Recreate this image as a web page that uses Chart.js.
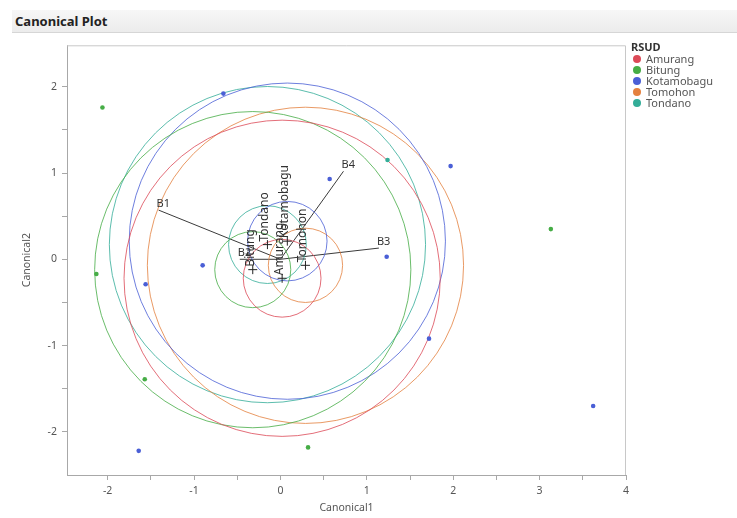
<!DOCTYPE html>
<html lang="en">
<head>
  <meta charset="UTF-8" />
  <title>Canonical Plot</title>
  <style>
    body {
      margin: 0;
      background: #fff;
      font-family: "Noto Sans", sans-serif;
      width: 737px;
      height: 518px;
      position: relative;
      overflow: hidden;
    }

    .header {
      position: absolute;
      left: 12px;
      top: 10px;
      right: 0;
      height: 22px;
      background: linear-gradient(#f7f7f7, #ececec);
      border-bottom: 1px solid #d6d6d6;
      font-weight: bold;
      font-size: 13px;
      line-height: 22px;
      padding-left: 3px;
      color: #222;
    }

    .plot {
      position: absolute;
      left: 0;
      top: 34px;
      width: 737px;
      height: 484px;
    }

    #legend {
      position: absolute;
      left: 631px;
      top: 41px;
      font-size: 11px;
      line-height: 11px;
      color: #555;
    }

    #legend .title {
      font-weight: bold;
      color: #333;
      margin-bottom: 1px;
    }

    #legend .item {
      display: flex;
      align-items: center;
      white-space: nowrap;
    }

    #legend .dot {
      width: 8px;
      height: 8px;
      border-radius: 50%;
      margin: 0 5px 0 2px;
    }
  </style>
</head>
<body>
  <div class="header">Canonical Plot</div>
  <div class="plot"><canvas id="chart" width="737" height="484"></canvas></div>
  <div id="legend"></div>

  <script src="https://cdn.jsdelivr.net/npm/chart.js"></script>
  <script>
    // groups and their means in canonical space
    const groups = ["Amurang", "Bitung", "Kotamobagu", "Tomohon", "Tondano"];
    const groupColors = ["#dc4a58", "#46ad46", "#4a5fd6", "#e4813f", "#33ad98"];
    const lineColors = ["rgba(220,74,88,0.8)", "rgba(70,173,70,0.8)", "rgba(74,95,214,0.8)", "rgba(228,129,63,0.8)", "rgba(51,173,152,0.8)"];
    const meanX = [0.02, -0.32, 0.08, 0.29, -0.15];
    const meanY = [-0.22, -0.12, 0.21, -0.07, 0.17];
    const meanCI = [0.45, 0.44, 0.46, 0.43, 0.45];   // 95% mean circles
    const contourR = [1.83, 1.83, 1.83, 1.83, 1.83]; // normal contour circles

    // observations
    const kotamobaguX = [-0.66, 1.97, 0.57, 1.23, -0.90, -1.56, 1.72, 3.62, -1.64];
    const kotamobaguY = [1.92, 1.08, 0.93, 0.03, -0.07, -0.29, -0.92, -1.70, -2.22];
    const bitungX = [-2.06, 3.13, -2.13, -1.57, 0.32];
    const bitungY = [1.76, 0.35, -0.17, -1.39, -2.18];
    const tondanoX = [1.24];
    const tondanoY = [1.15];

    // biplot rays
    const rayNames = ["B1", "B2", "B3", "B4"];
    const rayX = [-1.41, -0.47, 1.14, 0.73];
    const rayY = [0.57, 0.0, 0.13, 1.02];

    // axes
    const xTicks = [-2, -1, 0, 1, 2, 3, 4];
    const xMinor = [-1.5, -0.5, 0.5, 1.5, 2.5, 3.5];
    const yTicks = [-2, -1, 0, 1, 2];
    const yMinor = [-1.5, -0.5, 0.5, 1.5];

    const toPts = (xs, ys) => xs.map((x, i) => ({ x, y: ys[i] }));
    const pxRadius = (r) => (ctx) => {
      const xs = ctx.chart.scales.x;
      if (!xs) return 0;
      return Math.abs(xs.getPixelForValue(r) - xs.getPixelForValue(0));
    };

    const datasets = [];

    // observation points
    const obs = { Bitung: [bitungX, bitungY], Kotamobagu: [kotamobaguX, kotamobaguY], Tondano: [tondanoX, tondanoY] };
    for (const name in obs) {
      const c = groupColors[groups.indexOf(name)];
      datasets.push({
        label: name,
        data: toPts(obs[name][0], obs[name][1]),
        backgroundColor: c,
        borderColor: c,
        pointRadius: 2.3,
        borderWidth: 0
      });
    }

    // mean markers
    datasets.push({
      label: "means",
      data: toPts(meanX, meanY),
      pointStyle: "cross",
      pointRadius: 4.5,
      borderColor: "#222",
      borderWidth: 1
    });

    // circles, one point each, radius in data units
    groups.forEach((g, i) => {
      datasets.push({
        label: g + " contour",
        data: [{ x: meanX[i], y: meanY[i] }],
        pointRadius: pxRadius(contourR[i]),
        backgroundColor: "rgba(0,0,0,0)",
        borderColor: lineColors[i],
        borderWidth: 1,
        clip: false
      });
      datasets.push({
        label: g + " mean CI",
        data: [{ x: meanX[i], y: meanY[i] }],
        pointRadius: pxRadius(meanCI[i]),
        backgroundColor: "rgba(0,0,0,0)",
        borderColor: lineColors[i],
        borderWidth: 1,
        clip: false
      });
    });

    // rays from the origin
    rayNames.forEach((n, i) => {
      datasets.push({
        label: n,
        data: [{ x: 0, y: 0 }, { x: rayX[i], y: rayY[i] }],
        showLine: true,
        pointRadius: 0,
        borderColor: "#3a3a3a",
        borderWidth: 1
      });
    });

    const labelsPlugin = {
      id: "labels",
      beforeDatasetsDraw(chart) {
        const { ctx, chartArea: a } = chart;
        ctx.save();
        ctx.strokeStyle = "#c8c8c8";
        ctx.lineWidth = 1;
        ctx.beginPath();
        ctx.moveTo(a.left, a.top + 0.5);
        ctx.lineTo(a.right - 0.5, a.top + 0.5);
        ctx.lineTo(a.right - 0.5, a.bottom);
        ctx.stroke();
        ctx.restore();
      },
      afterDatasetsDraw(chart) {
        const { ctx, scales: { x, y } } = chart;
        ctx.save();
        ctx.fillStyle = "#333";
        ctx.font = "11px 'Noto Sans'";
        // ray names at the ray ends
        ctx.textAlign = "left";
        ctx.textBaseline = "bottom";
        rayNames.forEach((n, i) => {
          ctx.fillText(n, x.getPixelForValue(rayX[i]) - 2, y.getPixelForValue(rayY[i]) - 1);
        });
        // group names, rotated, at the means
        ctx.font = "12px 'Noto Sans'";
        groups.forEach((g, i) => {
          ctx.save();
          ctx.translate(x.getPixelForValue(meanX[i]) + 1, y.getPixelForValue(meanY[i]) - 3);
          ctx.rotate(-Math.PI / 2);
          ctx.textBaseline = "alphabetic";
          ctx.fillText(g, 0, 0);
          ctx.restore();
        });
        ctx.restore();
      }
    };

    const axisOpts = (min, max, major, minor, title, size) => ({
      type: "linear",
      min: min,
      max: max,
      afterBuildTicks: (scale) => {
        scale.ticks = major.concat(minor).sort((a, b) => a - b).map(v => ({ value: v }));
      },
      ticks: {
        autoSkip: false,
        maxRotation: 0,
        padding: 5,
        color: "#555",
        font: { family: "Noto Sans", size: 10.5 },
        callback: (v) => major.includes(v) ? String(v) : ""
      },
      grid: {
        drawOnChartArea: false,
        drawTicks: true,
        tickLength: 5,
        color: "#a8a8a8"
      },
      border: { display: true, color: "#a8a8a8" },
      title: {
        display: true,
        text: title,
        color: "#555",
        font: { family: "Noto Sans", size: 10.5 },
        padding: { top: 21, bottom: 4 }
      },
      afterFit: (scale) => {
        if (scale.isHorizontal()) scale.height = size; else scale.width = size;
      }
    });

    new Chart(document.getElementById("chart"), {
      type: "scatter",
      data: { datasets },
      options: {
        responsive: false,
        animation: false,
        events: [],
        layout: { padding: { left: 0, top: 10, right: 111, bottom: 0 } },
        plugins: {
          legend: { display: false },
          tooltip: { enabled: false }
        },
        scales: {
          x: axisOpts(-2.47, 4.0, xTicks, xMinor, "Canonical1", 43),
          y: axisOpts(-2.5, 2.48, yTicks, yMinor, "Canonical2", 67)
        }
      },
      plugins: [labelsPlugin]
    });

    // legend
    const legend = document.getElementById("legend");
    legend.innerHTML = '<div class="title">RSUD</div>' + groups.map((g, i) =>
      `<div class="item"><span class="dot" style="background:${groupColors[i]}"></span>${g}</div>`
    ).join("");
  </script>
</body>
</html>
